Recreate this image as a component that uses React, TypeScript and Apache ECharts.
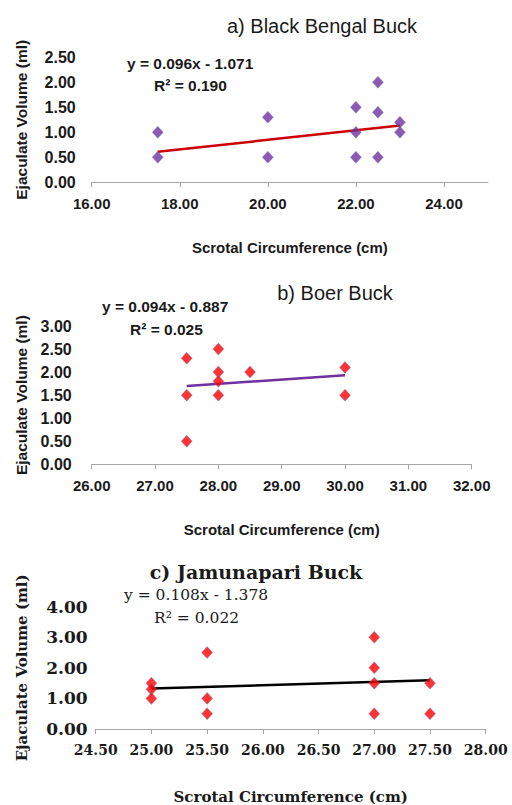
import React, { useEffect, useRef } from "react";
import * as echarts from "echarts";

// Panel a) Black Bengal Buck
const bengalCirc = [17.5, 17.5, 20, 20, 22, 22, 22, 22.5, 22.5, 22.5, 23, 23];
const bengalVol = [1.0, 0.5, 1.3, 0.5, 1.5, 1.0, 0.5, 2.0, 1.4, 0.5, 1.2, 1.0];
const bengalFit = [0.096, -1.071]; // slope, intercept

// Panel b) Boer Buck
const boerCirc = [27.5, 27.5, 27.5, 28, 28, 28, 28, 28.5, 30, 30];
const boerVol = [2.3, 1.5, 0.5, 2.5, 2.0, 1.8, 1.5, 2.0, 2.1, 1.5];
const boerFit = [0.094, -0.887];

// Panel c) Jamunapari Buck
const jamCirc = [25, 25, 25, 25.5, 25.5, 25.5, 27, 27, 27, 27, 27.5, 27.5];
const jamVol = [1.5, 1.3, 1.0, 2.5, 1.0, 0.5, 3.0, 2.0, 1.5, 0.5, 1.5, 0.5];
const jamFit = [0.108, -1.378];

const titles = ["a) Black Bengal Buck", "b) Boer Buck", "c) Jamunapari Buck"];
const equations = ["y = 0.096x - 1.071", "y = 0.094x - 0.887", "y = 0.108x - 1.378"];
const rSquared = ["R\u00B2 = 0.190", "R\u00B2 = 0.025", "R\u00B2 = 0.022"];
const xName = "Scrotal Circumference (cm)";
const yName = "Ejaculate Volume (ml)";

const SANS = "'Liberation Sans', Arial, sans-serif";
const SERIF = "'DejaVu Serif', serif";

function pts(xs: number[], ys: number[]) {
  return xs.map((x, i) => [x, ys[i]]);
}
function fitLine(xs: number[], fit: number[]) {
  const lo = Math.min(...xs);
  const hi = Math.max(...xs);
  return [
    [lo, fit[0] * lo + fit[1]],
    [hi, fit[0] * hi + fit[1]],
  ];
}

export default function App() {
  const ref = useRef<HTMLDivElement>(null);
  useEffect(() => {
    if (!ref.current) return;
    const chart = echarts.init(ref.current, undefined, { renderer: "svg" });

    const xAxisBase = (idx: number, min: number, max: number, interval: number, font: string, size: number, nameGap: number, nameSize: number, showMax: boolean) => ({
      type: "value",
      gridIndex: idx,
      min,
      max,
      interval,
      name: xName,
      nameLocation: "middle",
      nameGap,
      nameTextStyle: { fontFamily: font, fontSize: nameSize, fontWeight: "bold", color: "#1a1a1a" },
      axisLine: { show: true, lineStyle: { color: "#a6a6a6", width: 1 } },
      axisTick: { show: true, length: 5, lineStyle: { color: "#a6a6a6" } },
      splitLine: { show: false },
      axisLabel: {
        margin: 14,
        showMaxLabel: showMax,
        fontFamily: font,
        fontSize: size,
        fontWeight: "bold",
        color: "#1a1a1a",
        formatter: (v: number) => v.toFixed(2),
      },
    });
    const yAxisBase = (idx: number, max: number, interval: number, font: string, size: number, margin: number, nameGap: number, nameSize: number) => ({
      type: "value",
      gridIndex: idx,
      min: 0,
      max,
      interval,
      name: yName,
      nameLocation: "middle",
      nameGap,
      nameTextStyle: { fontFamily: font, fontSize: nameSize, fontWeight: "bold", color: "#1a1a1a" },
      axisLine: { show: false },
      axisTick: { show: false },
      splitLine: { show: false },
      axisLabel: {
        margin,
        fontFamily: font,
        fontSize: size,
        fontWeight: "bold",
        color: "#1a1a1a",
        formatter: (v: number) => v.toFixed(2),
      },
    });

    const scatter = (idx: number, data: number[][], color: string) => ({
      type: "scatter",
      xAxisIndex: idx,
      yAxisIndex: idx,
      data,
      symbol: "diamond",
      symbolSize: [11, 12],
      itemStyle: { color, borderColor: "rgba(91,140,200,0.8)", borderWidth: 0.6 },
      z: 3,
    });
    const trend = (idx: number, data: number[][], color: string) => ({
      type: "line",
      xAxisIndex: idx,
      yAxisIndex: idx,
      data,
      symbol: "none",
      lineStyle: { color, width: 2.5 },
      z: 2,
    });

    const txt = (text: string, x: number, y: number, font: string, size: number, weight: any, align: string) => ({
      type: "text",
      x,
      y,
      style: {
        text,
        fontFamily: font,
        fontSize: size,
        fontWeight: weight,
        fill: "#1a1a1a",
        textAlign: align,
        textVerticalAlign: "middle",
      },
    });

    chart.setOption({
      animation: false,
      backgroundColor: "#ffffff",
      grid: [
        { left: 91.7, top: 57.3, width: 396.3, height: 125 },
        { left: 91.7, top: 326, width: 380, height: 138.3 },
        { left: 95.7, top: 606.7, width: 390, height: 123.3 },
      ],
      xAxis: [
        xAxisBase(0, 16, 25, 2, SANS, 15, 58, 15, false),
        xAxisBase(1, 26, 32, 1, SANS, 15, 58, 15, true),
        xAxisBase(2, 24.5, 28, 0.5, SERIF, 14, 60, 15, true),
      ],
      yAxis: [
        yAxisBase(0, 2.5, 0.5, SANS, 16, 16, 62, 15.5),
        yAxisBase(1, 3, 0.5, SANS, 16, 20, 62, 15.5),
        yAxisBase(2, 4, 1, SERIF, 17, 8, 66, 15),
      ],
      series: [
        scatter(0, pts(bengalCirc, bengalVol), "#7030A0"),
        trend(0, fitLine(bengalCirc, bengalFit), "#CC0000"),
        scatter(1, pts(boerCirc, boerVol), "#FF0000"),
        trend(1, fitLine(boerCirc, boerFit), "#7030A0"),
        scatter(2, pts(jamCirc, jamVol), "#FF0000"),
        trend(2, fitLine(jamCirc, jamFit), "#000000"),
      ],
      graphic: [
        txt(titles[0], 322, 26, SANS, 20, "normal", "center"),
        txt(equations[0], 127, 63, SANS, 15.5, "bold", "left"),
        txt(rSquared[0], 154, 85, SANS, 15.5, "bold", "left"),
        txt(titles[1], 335, 293, SANS, 20, "normal", "center"),
        txt(equations[1], 102, 306, SANS, 15.5, "bold", "left"),
        txt(rSquared[1], 130, 329, SANS, 15.5, "bold", "left"),
        txt(titles[2], 256, 572, SERIF, 19, "bold", "center"),
        txt(equations[2], 124, 595, SERIF, 15.5, "normal", "left"),
        txt(rSquared[2], 154, 618, SERIF, 15.5, "normal", "left"),
      ],
    });
    return () => chart.dispose();
  }, []);
  return (
    <div
      ref={ref}
      style={{ position: "fixed", left: 0, top: 0, width: 512, height: 805, background: "#fff" }}
    />
  );
}
